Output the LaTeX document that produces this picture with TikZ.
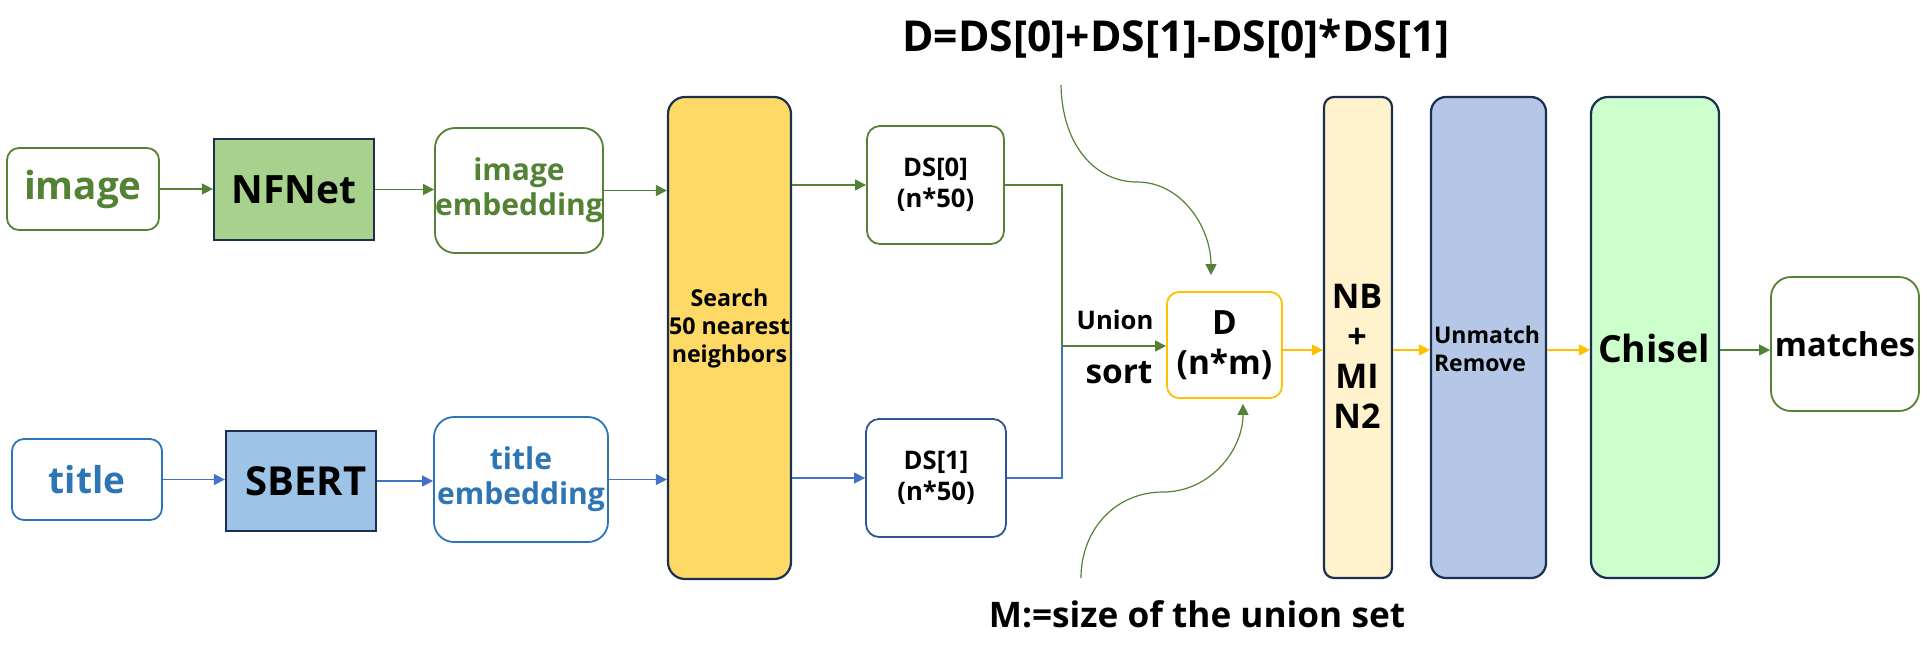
\documentclass[tikz,border=0pt]{standalone}
\usepackage{fontspec}
\setmainfont{Open Sans}
\usetikzlibrary{arrows.meta,calc}

\definecolor{grn}{HTML}{548235}
\definecolor{blu}{HTML}{2E75B6}
\definecolor{barrow}{HTML}{4472C4}
\definecolor{dsb}{HTML}{2F5597}
\definecolor{navy}{HTML}{1B2F52}
\definecolor{org}{HTML}{FFC000}
\definecolor{nff}{HTML}{A9D18E}
\definecolor{sbf}{HTML}{9DC3E6}
\definecolor{srf}{HTML}{FFD966}
\definecolor{nbf}{HTML}{FFF2CC}
\definecolor{umf}{HTML}{B4C7E7}
\definecolor{chf}{HTML}{CCFFCC}

\newcommand\fs[2]{\fontsize{#1}{#2}\selectfont\bfseries}

\tikzset{
  box/.style={draw, line width=0.9pt, inner sep=0pt, align=center, fill=white},
  gbox/.style={box, draw=grn, text=grn},
  bbox/.style={box, draw=blu, text=blu},
  nbox/.style={draw=navy, line width=1.1pt, inner sep=0pt, align=center},
  lbl/.style={inner sep=0pt, align=center},
  tip/.style={-{Triangle[length=5.5pt,width=5.5pt]}},
  gline/.style={draw=grn, line width=0.6pt},
  bline/.style={draw=barrow, line width=0.6pt},
  oline/.style={draw=org, line width=0.6pt},
  ga/.style={gline, tip},
  ba/.style={bline, tip},
  oa/.style={oline, tip},
}

\begin{document}
\begin{tikzpicture}[x=0.5pt,y=-0.5pt]
\useasboundingbox (0,0) rectangle (1927,655);

% top row
\node[gbox, rounded corners=6pt, minimum width=76pt, minimum height=41pt, font=\fs{19.3}{23}] (img) at (83,189) {image};
\node[nbox, fill=nff, minimum width=80pt, minimum height=50.5pt, font=\fs{19.5}{23}] (nfnet) at (294,189.5) {NFNet};
\node[gbox, rounded corners=10pt, minimum width=84pt, minimum height=62.5pt, font=\fs{15}{17.5}] (iemb) at (519,190.5) {image\\embedding};

% bottom row
\node[bbox, rounded corners=6pt, minimum width=75pt, minimum height=40.5pt, font=\fs{18.5}{22}] (ttl) at (87,479.5) {title};
\node[nbox, fill=sbf, minimum width=75pt, minimum height=50pt, font=\fs{20}{24}] (sbert) at (301,481) {\hspace*{5pt}SBERT};
\node[bbox, rounded corners=10pt, minimum width=87pt, minimum height=62.5pt, font=\fs{15}{17.5}] (temb) at (521,479.5) {title\\embedding};

% search
\node[nbox, fill=srf, rounded corners=8.5pt, minimum width=61.5pt, minimum height=241pt] (search) at (729.5,338) {};
\node[lbl, font=\fs{11.6}{14}] (searcht) at (729.5,328) {Search\\50 nearest\\neighbors};

% DS boxes
\node[gbox, text=black, rounded corners=6.5pt, minimum width=68.5pt, minimum height=59pt, font=\fs{12.8}{15.5}] (ds0) at (935.5,185) {DS[0]\\(n*50)};
\node[box, draw=dsb, rounded corners=6.5pt, minimum width=70pt, minimum height=59pt, font=\fs{12.8}{15.5}] (ds1) at (936,478) {DS[1]\\(n*50)};

% D box
\node[box, draw=org, rounded corners=6pt, minimum width=57.5pt, minimum height=53pt, font=\fs{16.7}{20}] (dbox) at (1224.5,345) {D\\(n*m)};
\node[lbl, font=\fs{12.8}{15}] (union) at (1115,320) {Union};
\node[lbl, font=\fs{16.7}{20}] (sort) at (1119,373) {sort};

% NB + MIN2
\node[nbox, fill=nbf, rounded corners=5pt, minimum width=34pt, minimum height=240.5pt] (nb) at (1358,337.5) {};
\node[lbl, font=\fs{17}{20}] (nbt) at (1357,356.5) {NB\\+\\MI\\N2};

% Unmatch Remove
\node[nbox, fill=umf, rounded corners=7.5pt, minimum width=57.5pt, minimum height=240.5pt] (um) at (1488.5,337.5) {};
\node[lbl, align=left, font=\fs{11.5}{14}] (umt) at (1487,349) {Unmatch\\Remove};

% Chisel
\node[nbox, fill=chf, rounded corners=8.5pt, minimum width=64pt, minimum height=240.5pt] (chisel) at (1655,337.5) {};
\node[lbl, font=\fs{18.7}{22}] (chiselt) at (1654,348) {Chisel};

% matches
\node[gbox, text=black, rounded corners=10pt, minimum width=74pt, minimum height=67pt, font=\fs{16.4}{20}] (matches) at (1845,344) {matches};

% annotations
\node[lbl, anchor=base, font=\fs{21.3}{25}] (formula) at (1176,51) {D=DS[0]+DS[1]-DS[0]*DS[1]};
\node[lbl, anchor=base, font=\fs{17.6}{21}] (msize) at (1197,627) {M:=size of the union set};

% connectors: top row
\draw[ga] (img.east) -- (nfnet.west |- img.east);
\draw[ga] (nfnet.east) -- (iemb.west |- nfnet.east);
\draw[ga] (iemb.east) -- (search.west |- iemb.east);
% bottom row
\draw[ba] (ttl.east) -- (sbert.west |- ttl.east);
\draw[ba] (sbert.east) -- (temb.west |- sbert.east);
\draw[ba] (temb.east) -- (search.west |- temb.east);
% search -> DS
\draw[ga] (search.east |- ds0.west) -- (ds0.west);
\draw[ba] (search.east |- ds1.west) -- (ds1.west);
% union
\coordinate (jn) at (1062,346);
\draw[gline] (ds0.east) -| (jn);
\draw[bline] (ds1.east) -| (jn);
\draw[ga] (jn) -- (dbox.west |- jn);
% pipeline
\coordinate (row) at (0,350);
\draw[oa] (dbox.east |- row) -- (nb.west |- row);
\draw[oa] (nb.east |- row) -- (um.west |- row);
\draw[oa] (um.east |- row) -- (chisel.west |- row);
\draw[ga] (chisel.east |- row) -- (matches.west |- row);

% curved annotation arrows
\coordinate (c1s) at (1061,85);
\coordinate (c1e) at ($(dbox.north)+(-13.5,-16)$);
\draw[ga] (c1s) .. controls (1062,145) and (1095,182) .. (1137,182) .. controls (1182,182) and (1211,228) .. (c1e);
\coordinate (c2s) at (1081,578);
\coordinate (c2e) at ($(dbox.south)+(18.5,5)$);
\draw[ga] (c2s) .. controls (1081,530) and (1115,492) .. (1163,492) .. controls (1210,492) and (1243,450) .. (c2e);
\end{tikzpicture}
\end{document}
